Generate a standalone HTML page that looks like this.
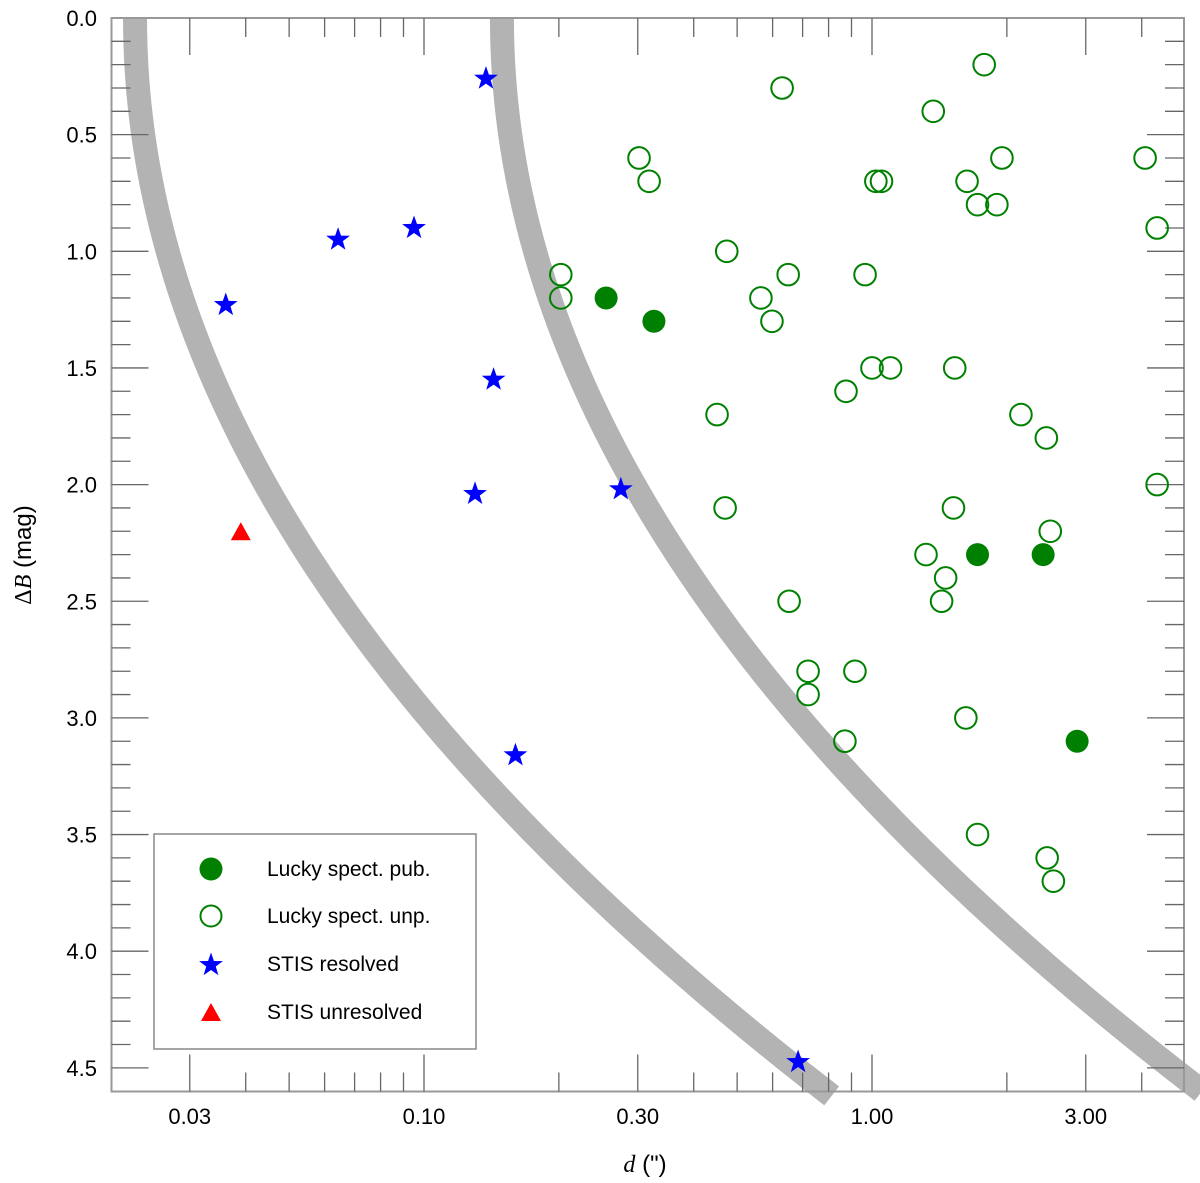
<!DOCTYPE html>
<html><head><meta charset="utf-8"><style>
html,body{margin:0;padding:0;background:#fff;}
svg{display:block;font-family:"Liberation Sans",sans-serif;}
</style></head><body>
<svg id="chart" width="1200" height="1183" viewBox="0 0 1200 1183">
<defs><clipPath id="clip"><rect x="111.5" y="18" width="1200" height="1200"/></clipPath></defs>
<g id="curves" clip-path="url(#clip)"></g>
<g id="axes"></g>
<g id="marks"></g>
<g id="legend">
<rect x="154" y="834" width="322" height="215" fill="#fff" stroke="#888" stroke-width="1.5"/>
<circle cx="211" cy="869" r="11.5" fill="#008000"/>
<text x="267" y="876" font-size="21">Lucky spect. pub.</text>
<circle cx="211" cy="916" r="10.5" fill="none" stroke="#008000" stroke-width="2"/>
<text x="267" y="923" font-size="21">Lucky spect. unp.</text>
<path id="legstar" fill="#0000ff"/>
<text x="267" y="971" font-size="21">STIS resolved</text>
<polygon points="201,1021 221,1021 211,1003" fill="#ff0000"/>
<text x="267" y="1019" font-size="21">STIS unresolved</text>
</g>
<text x="0" y="0" transform="translate(31,555) rotate(-90)" text-anchor="middle" font-size="24"><tspan font-family="Liberation Serif, serif">Δ</tspan><tspan font-family="Liberation Serif, serif" font-style="italic">B</tspan> (mag)</text>
<text x="645" y="1172" text-anchor="middle" font-size="24"><tspan font-family="Liberation Serif, serif" font-style="italic">d</tspan> (")</text>
</svg>
<script>
// ---- data ----
const pubD  = [0.255, 0.326, 1.72, 2.41, 2.87];
const pubDB = [1.20, 1.30, 2.30, 2.30, 3.10];
const unpD  = [1.78,0.63,1.37,0.302,1.95,4.07,0.318,1.02,1.05,1.63,1.72,1.90,4.33,0.474,0.202,0.65,0.965,0.202,0.565,0.598,1.00,1.10,1.53,0.875,0.451,2.15,2.45,4.33,0.47,1.52,2.50,1.32,1.46,1.43,0.653,0.72,0.916,0.72,1.62,0.87,1.72,2.46,2.54];
const unpDB = [0.20,0.30,0.40,0.60,0.60,0.60,0.70,0.70,0.70,0.70,0.80,0.80,0.90,1.00,1.10,1.10,1.10,1.20,1.20,1.30,1.50,1.50,1.50,1.60,1.70,1.70,1.80,2.00,2.10,2.10,2.20,2.30,2.40,2.50,2.50,2.80,2.80,2.90,3.00,3.10,3.50,3.60,3.70];
const stisD  = [0.1375,0.0643,0.095,0.0361,0.143,0.130,0.275,0.160,0.684];
const stisDB = [0.26,0.95,0.90,1.23,1.55,2.04,2.02,3.16,4.475];
const unresD  = [0.039];
const unresDB = [2.20];
// detection-limit curves: log10(d) = offset + (dB/scale)^2
const limitOffsets = [-1.645, -0.826];
const limitScales  = [3.705, 3.68];
const limitMaxDB   = [4.62, 4.6];
const xTickMajor = [0.03,0.1,0.3,1,3];
const xTickLabels = ["0.03","0.10","0.30","1.00","3.00"];
const xTickMinor = [0.02,0.04,0.05,0.06,0.07,0.08,0.09,0.2,0.4,0.5,0.6,0.7,0.8,0.9,2,4,5];
const yTickLabels = ["0.0","0.5","1.0","1.5","2.0","2.5","3.0","3.5","4.0","4.5"];

// ---- scales ----
const L=111.5,R=1184,T=18,B=1091.5;
const X = d => 872 + 448*Math.log10(d);
const XL = lg => 872 + 448*lg;
const Y = v => T + v*233.3;
const NS="http://www.w3.org/2000/svg";
function mk(tag, attrs, parent){const e=document.createElementNS(NS,tag);for(const k in attrs)e.setAttribute(k,attrs[k]);parent.appendChild(e);return e;}
function starPath(cx,cy,ro){const ri=ro*0.4;let p="";for(let i=0;i<10;i++){const r=i%2?ri:ro;const a=-Math.PI/2+i*Math.PI/5;p+=(i?"L":"M")+(cx+r*Math.cos(a)).toFixed(2)+","+(cy+r*Math.sin(a)).toFixed(2);}return p+"Z";}
document.getElementById('legstar').setAttribute('d',starPath(211,965,12.5));

// ---- curves ----
const cg=document.getElementById('curves');
limitOffsets.forEach((off,k)=>{
  let d="";
  const n=200;
  for(let i=0;i<=n;i++){
    const t=i/n, db=-0.15+(limitMaxDB[k]+0.15)*t;
    const lg=off+Math.pow(Math.max(db,0)/limitScales[k],2);
    d+=(i?"L":"M")+XL(lg).toFixed(2)+","+Y(db).toFixed(2);
  }
  const p=mk('path',{d:d,fill:'none',stroke:'#b3b3b3','stroke-width':24,'stroke-linecap':'butt','stroke-linejoin':'round'},cg);
  
  
});

// ---- axes ----
const ag=document.getElementById('axes');
const frame=mk('rect',{x:L,y:T,width:R-L,height:B-T,fill:'none',stroke:'#999','stroke-width':2},ag);


const tk={stroke:'#666','stroke-width':1.3};
xTickMajor.forEach((v,i)=>{
  const x=X(v);
  mk('line',Object.assign({x1:x,x2:x,y1:B,y2:B-37},tk),ag);
  mk('line',Object.assign({x1:x,x2:x,y1:T,y2:T+37},tk),ag);
  const t=mk('text',{x:x,y:1124,'text-anchor':'middle','font-size':22},ag);
  t.textContent=xTickLabels[i];
  
  
});
xTickMinor.forEach(v=>{
  const x=X(v); if(x<L+1||x>R-1) return;
  mk('line',Object.assign({x1:x,x2:x,y1:B,y2:B-19},tk),ag);
  mk('line',Object.assign({x1:x,x2:x,y1:T,y2:T+19},tk),ag);
});
for(let i=1;i<=45;i++){
  const v=i/10, y=Y(v), major=(i%5===0), len=major?37:19;
  mk('line',Object.assign({x1:L,x2:L+len,y1:y,y2:y},tk),ag);
  mk('line',Object.assign({x1:R,x2:R-len,y1:y,y2:y},tk),ag);
}
yTickLabels.forEach((s,i)=>{
  const t=mk('text',{x:97,y:Y(i*0.5)+8,'text-anchor':'end','font-size':22},ag);
  t.textContent=s;
  
  
});

// ---- marks ----
const mg=document.getElementById('marks');
unpD.forEach((d,i)=>{
  const c=mk('circle',{cx:X(d),cy:Y(unpDB[i]),r:10.8,fill:'none',stroke:'#008000','stroke-width':2},mg);
  
  
});
pubD.forEach((d,i)=>{
  const c=mk('circle',{cx:X(d),cy:Y(pubDB[i]),r:11.5,fill:'#008000'},mg);
  
  
});
stisD.forEach((d,i)=>{
  const s=mk('path',{d:starPath(X(d),Y(stisDB[i]),12.5),fill:'#0000ff'},mg);
  
  
});
unresD.forEach((d,i)=>{
  const x=X(d),y=Y(unresDB[i]);
  const s=mk('polygon',{points:`${x-10},${y+9} ${x+10},${y+9} ${x},${y-9}`,fill:'#ff0000'},mg);
  
  
});
</script>
</body></html>
